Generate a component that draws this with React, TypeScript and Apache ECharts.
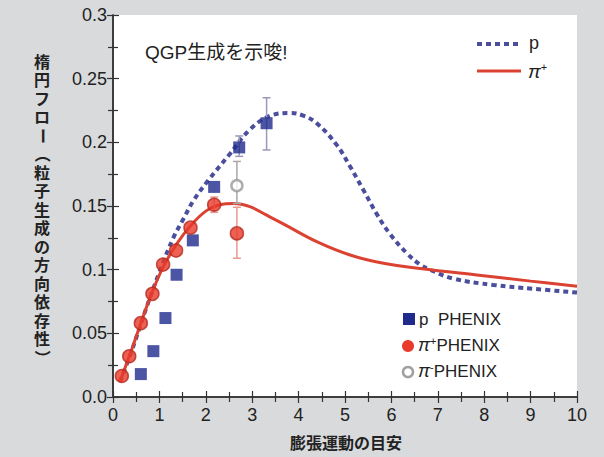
import React, { useEffect, useRef } from "react";
import * as echarts from "echarts";

// ---- data ----
const xTicks = [0, 1, 2, 3, 4, 5, 6, 7, 8, 9, 10];
const yTicks = ["0.0", "0.05", "0.1", "0.15", "0.2", "0.25", "0.3"];

const pCurve: number[][] = [
  [0.15, 0.012], [0.4, 0.036], [0.7, 0.068], [1.0, 0.098], [1.3, 0.125], [1.52, 0.14],
  [1.73, 0.154], [2.05, 0.17], [2.5, 0.19], [2.95, 0.21], [3.4, 0.221], [3.81, 0.223],
  [4.1, 0.221], [4.39, 0.215], [4.82, 0.198], [5.11, 0.181], [5.39, 0.163], [5.68, 0.144],
  [5.97, 0.128], [6.33, 0.113], [6.62, 0.104], [6.83, 0.1], [7.33, 0.093], [8.2, 0.088],
  [9.06, 0.085], [10, 0.082],
];
const piCurve: number[][] = [
  [0.15, 0.012], [0.4, 0.037], [0.6, 0.058], [0.83, 0.081], [1.08, 0.102], [1.37, 0.12],
  [1.66, 0.134], [2.0, 0.146], [2.3, 0.151], [2.6, 0.152], [2.95, 0.1495], [3.3, 0.143],
  [3.67, 0.136], [4.39, 0.122], [5.11, 0.1115], [5.83, 0.105], [6.62, 0.101], [7.84, 0.0958],
  [9.0, 0.091], [10, 0.087],
];
const pPhenix: number[][] = [
  [0.6, 0.018], [0.87, 0.036], [1.13, 0.062], [1.37, 0.096], [1.72, 0.123], [2.18, 0.165],
  [2.72, 0.196], [3.31, 0.215],
];
const pErr: number[][] = [[2.72, 0.189, 0.205], [3.31, 0.194, 0.235]];
const piPlusPhenix: number[][] = [
  [0.19, 0.0165], [0.35, 0.032], [0.6, 0.058], [0.85, 0.081], [1.08, 0.104], [1.36, 0.115],
  [1.67, 0.133], [2.18, 0.151], [2.67, 0.1285],
];
const piPlusErr: number[][] = [[2.18, 0.145, 0.157], [2.67, 0.109, 0.149]];
const piMinusPhenix: number[][] = [[2.67, 0.166]];
const piMinusErr: number[][] = [[2.67, 0.152, 0.185]];

// vertical axis title, one character per line (some rotated for vertical writing)
const yNameChars = ["楕", "円", "フ", "ロ", "ー", "（", "粒", "子", "生", "成", "の", "方", "向", "依", "存", "性", "）"];
const yNameRotated = ["ー", "（", "）"];

const FONT = "'Liberation Sans', 'Noto Sans CJK JP', sans-serif";

function errSeries(data: number[][], color: string) {
  return {
    type: "custom",
    data,
    z: 3,
    renderItem: (params: any, api: any) => {
      const x = api.value(0);
      const lo = api.coord([x, api.value(1)]);
      const hi = api.coord([x, api.value(2)]);
      const w = 4;
      return {
        type: "group",
        children: [
          { type: "line", shape: { x1: lo[0], y1: lo[1], x2: hi[0], y2: hi[1] }, style: { stroke: color, lineWidth: 1.5 } },
          { type: "line", shape: { x1: lo[0] - w, y1: lo[1], x2: lo[0] + w, y2: lo[1] }, style: { stroke: color, lineWidth: 1.5 } },
          { type: "line", shape: { x1: hi[0] - w, y1: hi[1], x2: hi[0] + w, y2: hi[1] }, style: { stroke: color, lineWidth: 1.5 } },
        ],
      };
    },
  };
}

export default function App() {
  const ref = useRef<HTMLDivElement>(null);
  useEffect(() => {
    if (!ref.current) return;
    const chart = echarts.init(ref.current, undefined, { renderer: "svg" });
    const axisCommon = {
      axisLine: { show: true, lineStyle: { color: "#333", width: 1.5 } },
      axisTick: { show: true, inside: true, length: 6, lineStyle: { color: "#333", width: 1.2 } },
      minorTick: { show: true, splitNumber: 2, length: 5, lineStyle: { color: "#333", width: 1.2 } },
      splitLine: { show: false },
    };
    const supRich = {
      i: { fontSize: 18, fontStyle: "italic", fontFamily: FONT, fill: "#222" },
      s: { fontSize: 11, verticalAlign: "top", fontFamily: FONT, fill: "#222", padding: [0, 0, 8, 0] },
      t: { fontSize: 17, fontFamily: FONT, fill: "#222" },
    };
    const yNameTexts = yNameChars.map((ch, i) => ({
      type: "text",
      x: 42,
      y: 62 + i * 18.5,
      rotation: yNameRotated.includes(ch) ? -Math.PI / 2 : 0,
      style: {
        text: ch, fontSize: 16, fontFamily: FONT, fill: "#222", fontWeight: "bold",
        align: "center", verticalAlign: "middle",
      },
    }));
    chart.setOption({
      animation: false,
      backgroundColor: "#d9dadc",
      grid: { left: 113, top: 15, right: 27, bottom: 60, show: true, backgroundColor: "#ffffff", borderWidth: 0 },
      xAxis: [
        {
          type: "value", min: 0, max: 10, interval: 1, position: "bottom",
          ...axisCommon,
          axisLabel: {
            color: "#222", fontSize: 18, fontFamily: FONT, margin: 9,
            formatter: (v: number) => String(xTicks[Math.round(v)]),
          },
        },
        { type: "value", min: 0, max: 10, interval: 1, position: "top", ...axisCommon, axisLabel: { show: false } },
      ],
      yAxis: [
        {
          type: "value", min: 0, max: 0.3, interval: 0.05, position: "left",
          ...axisCommon,
          axisLabel: {
            color: "#222", fontSize: 18, fontFamily: FONT, margin: 6,
            formatter: (v: number) => yTicks[Math.round(v / 0.05)],
          },
        },
        { type: "value", min: 0, max: 0.3, interval: 0.05, position: "right", ...axisCommon, axisLabel: { show: false } },
      ],
      series: [
        {
          type: "line", data: pCurve, smooth: 0.4, symbol: "none", z: 2,
          lineStyle: { color: "#4a4e9c", width: 4, type: [5, 4], cap: "butt" },
        },
        {
          type: "line", data: piCurve, smooth: 0.4, symbol: "none", z: 2,
          lineStyle: { color: "#db4232", width: 3 },
        },
        errSeries(pErr, "#9a9ab8"),
        errSeries(piPlusErr, "#e89a90"),
        errSeries(piMinusErr, "#a8a8a8"),
        {
          type: "scatter", data: pPhenix, symbol: "rect", symbolSize: 12, z: 4,
          itemStyle: { color: "#1f2a8c" },
        },
        {
          type: "scatter", data: piPlusPhenix, symbol: "circle", symbolSize: 13, z: 5,
          itemStyle: { color: "#e8392b", borderColor: "#b52a20", borderWidth: 1.5 },
        },
        {
          type: "scatter", data: piMinusPhenix, symbol: "circle", symbolSize: 11, z: 5,
          itemStyle: { color: "#ffffff", borderColor: "#9a9a9a", borderWidth: 2.5 },
        },
      ],
      graphic: [
        {
          type: "text", x: 145, y: 52,
          style: { text: "QGP生成を示唆!", fontSize: 19, fontFamily: FONT, fill: "#222", verticalAlign: "middle" },
        },
        ...yNameTexts,
        {
          type: "text", x: 346, y: 443,
          style: {
            text: "膨張運動の目安", fontSize: 16, fontFamily: FONT, fill: "#222", fontWeight: "bold",
            align: "center", verticalAlign: "middle",
          },
        },
        // top-right legend
        { type: "line", shape: { x1: 477, y1: 44, x2: 521, y2: 44 }, style: { stroke: "#4a4e9c", lineWidth: 4, lineDash: [5, 4] } },
        {
          type: "text", x: 529, y: 43,
          style: { text: "p", fontSize: 18, fontFamily: FONT, fill: "#222", verticalAlign: "middle" },
        },
        { type: "line", shape: { x1: 477, y1: 71, x2: 521, y2: 71 }, style: { stroke: "#db4232", lineWidth: 3 } },
        {
          type: "text", x: 528, y: 71,
          style: {
            text: "{i|π}{s|+}", fontFamily: FONT, fill: "#222", verticalAlign: "middle",
            rich: { ...supRich, i: { ...supRich.i, fontSize: 19 } },
          },
        },
        // bottom-right legend
        { type: "rect", shape: { x: 403, y: 313, width: 12, height: 12 }, style: { fill: "#1f2a8c" } },
        {
          type: "text", x: 419, y: 319,
          style: { text: "p  PHENIX", fontSize: 17, fontFamily: FONT, fill: "#222", verticalAlign: "middle" },
        },
        { type: "circle", shape: { cx: 408, cy: 346, r: 6 }, style: { fill: "#e8392b" } },
        {
          type: "text", x: 418, y: 345,
          style: { text: "{i|π}{s|+}{t|PHENIX}", fontFamily: FONT, fill: "#222", verticalAlign: "middle", rich: supRich },
        },
        { type: "circle", shape: { cx: 408, cy: 372, r: 5 }, style: { fill: "#ffffff", stroke: "#a0a0a0", lineWidth: 2.5 } },
        {
          type: "text", x: 418, y: 371,
          style: { text: "{i|π}{s|-}{t|PHENIX}", fontFamily: FONT, fill: "#222", verticalAlign: "middle", rich: supRich },
        },
      ],
    });
    return () => chart.dispose();
  }, []);
  return <div ref={ref} style={{ position: "fixed", left: 0, top: 0, width: 604, height: 457 }} />;
}
